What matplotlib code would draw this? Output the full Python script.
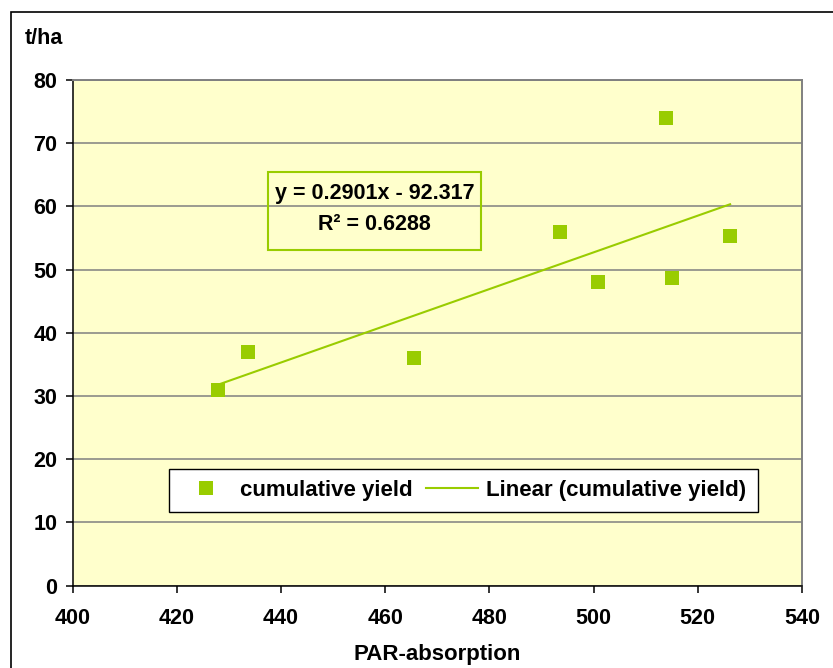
import numpy as np
import matplotlib
matplotlib.use("Agg")
import matplotlib.pyplot as plt
from matplotlib.patches import Rectangle

plt.rcParams['font.family'] = ['Liberation Sans', 'DejaVu Sans']
plt.rcParams['font.weight'] = 'bold'

# data
par_absorption = [428.0, 433.7, 465.5, 493.6, 500.9, 513.9, 515.1, 526.2]
cumulative_yield = [31.0, 37.0, 36.0, 56.0, 48.1, 74.0, 48.7, 55.3]
x_ticks = [400, 420, 440, 460, 480, 500, 520, 540]
y_ticks = [0, 10, 20, 30, 40, 50, 60, 70, 80]
equation_text = "y = 0.2901x - 92.317"
r2_text = "R\u00b2 = 0.6288"

green = '#99CC00'
bg = '#FFFFCC'
grid_c = '#808080'

W, H = 833, 668
fig = plt.figure(figsize=(W / 100, H / 100), dpi=100)
fig.patch.set_facecolor('white')

# outer chart border (left/top visible)
fig.patches.append(Rectangle((11 / W, -0.1), 1.2, 1 - 12 / H + 0.1,
                             transform=fig.transFigure, fill=False,
                             edgecolor='black', linewidth=1.2))

ax = fig.add_axes([72.5 / W, 1 - 585.7 / H, (802 - 72.5) / W, (585.7 - 80) / H])
ax.set_facecolor(bg)

x = np.array(par_absorption)
y = np.array(cumulative_yield)
slope, intercept = np.polyfit(x, y, 1)
xl = np.array([x.min(), x.max()])

ax.plot(x, y, linestyle='none', marker='s', markersize=9.5,
        markerfacecolor=green, markeredgecolor=green, markeredgewidth=0,
        label='cumulative yield', zorder=4)
ax.plot(xl, slope * xl + intercept, color=green, linewidth=1.5,
        label='Linear (cumulative yield)', zorder=3)

ax.set_xlim(x_ticks[0], x_ticks[-1])
ax.set_ylim(y_ticks[0], y_ticks[-1])
ax.set_xticks(x_ticks)
ax.set_yticks(y_ticks)
ax.yaxis.grid(True, color=grid_c, linewidth=1.1)
ax.set_axisbelow(True)

for s in ['left', 'bottom']:
    ax.spines[s].set_color('black')
    ax.spines[s].set_linewidth(1.1)
for s in ['right', 'top']:
    ax.spines[s].set_color(grid_c)
    ax.spines[s].set_linewidth(1.4)

ax.tick_params(axis='both', direction='out', length=5, width=1.1,
               color='black', labelsize=15.5)
ax.tick_params(axis='y', pad=6)
ax.tick_params(axis='x', pad=11)
for lab in ax.get_xticklabels() + ax.get_yticklabels():
    lab.set_fontweight('bold')

ax.set_xlabel('PAR-absorption', fontsize=16, fontweight='bold', labelpad=11)
fig.text(25 / W, 1 - 39 / H, 't/ha', fontsize=15.5, fontweight='bold',
         ha='left', va='center')

# equation box
ax.add_patch(Rectangle((0.268, 0.664), 0.292, 0.154, transform=ax.transAxes,
                       fill=False, edgecolor=green, linewidth=1.5, zorder=5))
ax.text(0.414, 0.776, equation_text, transform=ax.transAxes, ha='center',
        va='center', fontsize=15.5, fontweight='bold', zorder=6)
ax.text(0.414, 0.714, r2_text, transform=ax.transAxes, ha='center',
        va='center', fontsize=15.5, fontweight='bold', zorder=6)

leg = ax.legend(loc='center', bbox_to_anchor=(0.536, 0.189), ncol=2,
                frameon=True, fancybox=False, framealpha=1,
                edgecolor='black', facecolor='white',
                prop={'size': 16, 'weight': 'bold'},
                handlelength=2.3, handletextpad=0.4, columnspacing=0.6,
                borderpad=0.5, borderaxespad=0)
leg.get_frame().set_linewidth(1.0)

fig.savefig('out.png', dpi=100)
